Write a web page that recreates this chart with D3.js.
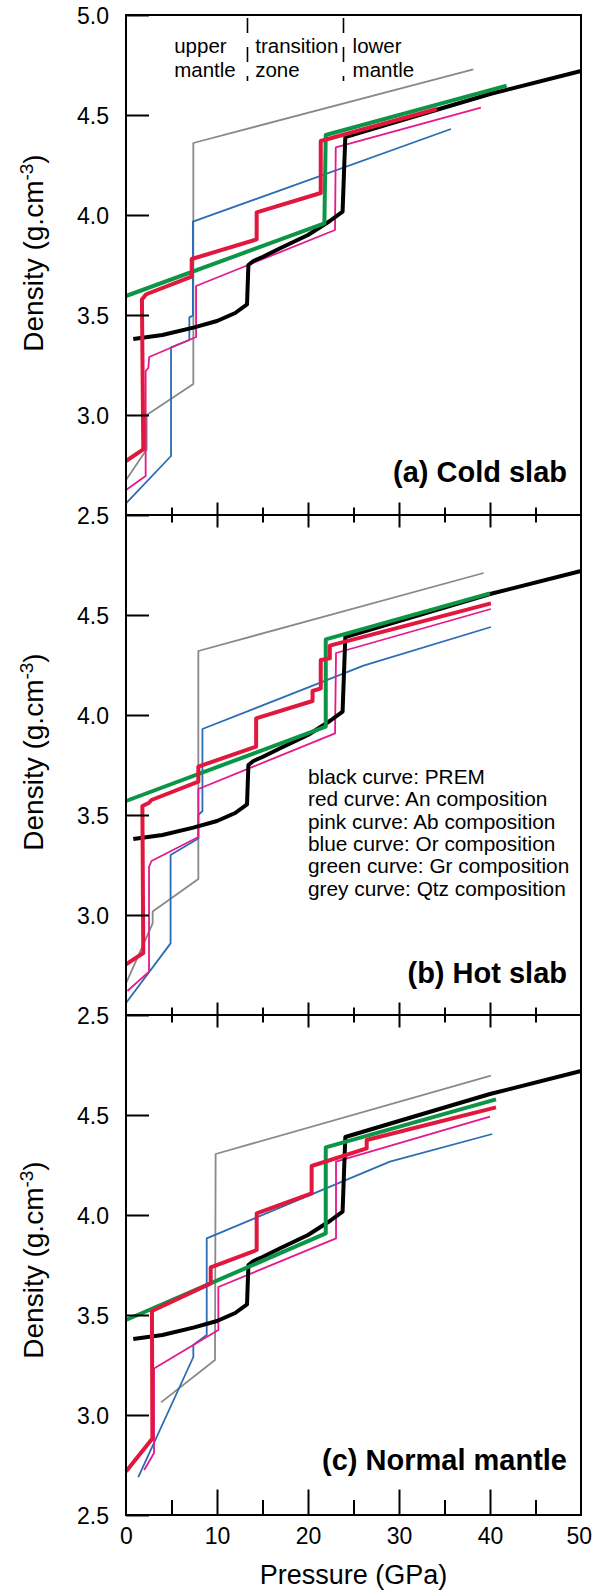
<!DOCTYPE html>
<html>
<head>
<meta charset="utf-8">
<script src="https://cdn.jsdelivr.net/npm/d3@7"></script>
<style>
  body { margin: 0; background: #fff; }
  svg { display: block; font-family: "Liberation Sans", Arial, Helvetica, sans-serif; }
</style>
</head>
<body>
<svg id="chart" width="592" height="1591"></svg>
<script>
// [pressure GPa, density g/cm3]
const prem = [[0.8,3.38],[4,3.40],[7.4,3.437],[10,3.47],[12,3.51],[13.3,3.553],[13.45,3.75],[14,3.77],[15,3.79],[17,3.835],[20,3.9],[22.4,3.97],[23.8,4.017],[24.1,4.39],[30,4.47],[40,4.605],[50,4.72]];

const coldAn  = [[0,2.77],[1.9,2.828],[1.75,3.578],[2.1,3.598],[2.3,3.605],[7.22,3.692],[7.22,3.78],[14.36,3.878],[14.36,4.013],[21.4,4.11],[21.4,4.37],[34.14,4.53]];
const coldAb  = [[0,2.625],[2.16,2.695],[2.16,3.22],[2.45,3.235],[2.55,3.29],[7.7,3.39],[7.7,3.645],[22.97,3.925],[23.05,4.338],[39.0,4.537]];
const coldOr  = [[0,2.558],[4.95,2.795],[4.95,3.338],[6.96,3.375],[6.96,3.488],[7.35,3.497],[7.35,3.967],[35.71,4.43]];
const coldGr  = [[0,3.595],[21.8,3.958],[21.95,4.40],[41.83,4.647]];
const coldQtz = [[0,2.675],[2.27,2.828],[2.27,3.0],[7.4,3.155],[7.4,4.36],[38.17,4.728]];

const hotAn  = [[0,2.753],[1.9,2.81],[1.8,3.545],[2.5,3.56],[2.8,3.575],[7.95,3.667],[7.95,3.742],[14.3,3.842],[14.3,3.983],[20.5,4.07],[20.5,4.12],[21.4,4.133],[21.4,4.275],[22.4,4.283],[22.4,4.347],[40.1,4.558]];
const hotAb  = [[0.15,2.62],[2.53,2.717],[2.53,3.24],[2.8,3.27],[7.95,3.39],[7.95,3.63],[22.97,3.908],[23.08,4.31],[40.1,4.53]];
const hotOr  = [[0,2.56],[4.9,2.858],[4.9,3.30],[7.95,3.383],[7.95,3.50],[8.4,3.52],[8.4,3.93],[26.1,4.247],[40.1,4.44]];
const hotGr  = [[0,3.57],[21.95,3.942],[21.95,4.378],[40,4.608]];
const hotQtz = [[0,2.658],[2.93,2.958],[2.93,3.017],[7.95,3.18],[7.95,4.32],[39.3,4.71]];

const normAn  = [[0,2.717],[2.9,2.883],[2.85,3.52],[9.31,3.658],[9.31,3.738],[14.36,3.825],[14.36,4.008],[20.4,4.108],[20.4,4.245],[26.45,4.333],[26.45,4.375],[40.66,4.538]];
const normAb  = [[2.0,2.725],[3.08,2.81],[3.08,3.233],[10.15,3.425],[10.15,3.64],[23.08,3.883],[23.08,4.267],[40,4.492]];
const normOr  = [[1.35,2.689],[7.4,3.29],[7.4,3.35],[8.87,3.40],[8.87,3.883],[29,4.267],[40.25,4.405]];
const normGr  = [[0,3.475],[21.95,3.908],[21.95,4.338],[40.66,4.578]];
const normQtz = [[3.85,3.063],[9.78,3.275],[9.85,4.305],[40.1,4.697]];

const panelTitles = ["(a) Cold slab", "(b) Hot slab", "(c) Normal mantle"];
const yTickValues = [2.5, 3.0, 3.5, 4.0, 4.5];
const xMajorTicks = [0, 10, 20, 30, 40, 50];
const xMinorTicks = [5, 15, 25, 35, 45];
const zoneBounds = [13.35, 23.9];
const zoneLabels = [["upper", "mantle"], ["transition", "zone"], ["lower", "mantle"]];
const zoneLabelP = [5.3, 14.2, 24.9];
const legendLines = [
  "black curve: PREM",
  "red curve: An composition",
  "pink curve: Ab composition",
  "blue curve: Or composition",
  "green curve: Gr composition",
  "grey curve: Qtz composition"
];

// draw order, bottom to top
const curveKeys = ["Qtz", "Or", "Ab", "PREM", "Gr", "An"];
const curveColor = { Qtz: "#898989", Or: "#2b6cb3", Ab: "#e4198b", PREM: "#000000", Gr: "#0c9546", An: "#e0183e" };
const curveWidth = { Qtz: 1.8, Or: 1.8, Ab: 1.8, PREM: 4, Gr: 4, An: 4 };

const panels = [
  { title: panelTitles[0], curves: { Qtz: coldQtz, Or: coldOr, Ab: coldAb, PREM: prem, Gr: coldGr, An: coldAn } },
  { title: panelTitles[1], curves: { Qtz: hotQtz, Or: hotOr, Ab: hotAb, PREM: prem, Gr: hotGr, An: hotAn } },
  { title: panelTitles[2], curves: { Qtz: normQtz, Or: normOr, Ab: normAb, PREM: prem, Gr: normGr, An: normAn } }
];

const left = 126, right = 581, top0 = 15, panelH = 500;
const titleOffset = [33, 32, 45];
const yLabelCenter = [253, 752, 1260];

const svg = d3.select("#chart");
const x = d3.scaleLinear().domain([0, 50]).range([left, right]);

panels.forEach((panel, i) => {
  const pTop = top0 + i * panelH;
  const pBot = pTop + panelH;
  const y = d3.scaleLinear().domain([2.5, 5]).range([pBot, pTop]);
  const g = svg.append("g");

  const line = d3.line().x((d) => x(d[0])).y((d) => y(d[1]));

  curveKeys.forEach((key) => {
    g.append("path")
      .datum(panel.curves[key])
      .attr("d", line)
      .attr("fill", "none")
      .attr("stroke", curveColor[key])
      .attr("stroke-width", curveWidth[key])
      .attr("stroke-linejoin", "round");
  });

  // left axis, ticks pointing inward
  const ticks = i === 0 ? yTickValues.concat([5.0]) : yTickValues;
  const yAxis = g.append("g")
    .attr("transform", `translate(${left},0)`)
    .call(d3.axisLeft(y).tickValues(ticks).tickFormat(d3.format(".1f"))
      .tickSizeInner(-23).tickSizeOuter(0).tickPadding(17));
  yAxis.select(".domain").remove();
  yAxis.selectAll(".tick line").attr("stroke-width", 2);
  yAxis.selectAll(".tick text")
    .attr("font-size", 23).attr("fill", "#000")
    .attr("font-family", "Liberation Sans, Arial, sans-serif")
    .attr("dy", "0.36em");

  // y label
  const lab = g.append("text")
    .attr("transform", `translate(43,${yLabelCenter[i]}) rotate(-90)`)
    .attr("text-anchor", "middle")
    .attr("font-size", 28);
  lab.append("tspan").text("Density (g.cm");
  lab.append("tspan").attr("dy", -10).attr("font-size", 19).text("-3");
  lab.append("tspan").attr("dy", 10).text(")");

  // bottom x ticks
  if (i < 2) {
    [[xMajorTicks.slice(1, -1), 12.5], [xMinorTicks, 7.5]].forEach(([vals, half]) => {
      const ax = g.append("g")
        .attr("transform", `translate(0,${pBot})`)
        .call(d3.axisBottom(x).tickValues(vals).tickFormat("").tickSizeOuter(0));
      ax.select(".domain").remove();
      ax.selectAll(".tick line").attr("y1", -half).attr("y2", half).attr("stroke-width", 2);
    });
  } else {
    const axMaj = g.append("g")
      .attr("transform", `translate(0,${pBot})`)
      .call(d3.axisBottom(x).tickValues(xMajorTicks).tickFormat(d3.format("d"))
        .tickSizeInner(-25.5).tickSizeOuter(0).tickPadding(13));
    axMaj.select(".domain").remove();
    axMaj.selectAll(".tick line").attr("stroke-width", 2)
      .filter((d) => d === 0 || d === 50).remove();
    axMaj.selectAll(".tick text").attr("font-size", 23).attr("fill", "#000")
      .attr("font-family", "Liberation Sans, Arial, sans-serif");
    // last label sits against the page edge
    axMaj.selectAll(".tick text").filter((d) => d === 50)
      .attr("text-anchor", "end").attr("x", 10.5);
    const axMin = g.append("g")
      .attr("transform", `translate(0,${pBot})`)
      .call(d3.axisBottom(x).tickValues(xMinorTicks).tickFormat("")
        .tickSizeInner(-15).tickSizeOuter(0));
    axMin.select(".domain").remove();
    axMin.selectAll(".tick line").attr("stroke-width", 2);
  }

  // panel title
  g.append("text")
    .attr("x", 567).attr("y", pBot - titleOffset[i])
    .attr("text-anchor", "end")
    .attr("font-size", 29).attr("font-weight", "bold")
    .text(panel.title);
});

// frame
svg.append("rect")
  .attr("x", left).attr("y", top0)
  .attr("width", right - left).attr("height", panelH * 3)
  .attr("fill", "none").attr("stroke", "#000").attr("stroke-width", 2);
[1, 2].forEach((k) => {
  svg.append("line")
    .attr("x1", left).attr("x2", right)
    .attr("y1", top0 + k * panelH).attr("y2", top0 + k * panelH)
    .attr("stroke", "#000").attr("stroke-width", 2);
});

// mantle zones in panel (a)
zoneBounds.forEach((p) => {
  svg.append("line")
    .attr("x1", x(p)).attr("x2", x(p))
    .attr("y1", 18).attr("y2", 81)
    .attr("stroke", "#000").attr("stroke-width", 1.6)
    .attr("stroke-dasharray", "15,14");
});
zoneLabels.forEach((lines, k) => {
  lines.forEach((s, j) => {
    svg.append("text")
      .attr("x", x(zoneLabelP[k])).attr("y", 53 + j * 24)
      .attr("font-size", 20.5)
      .text(s);
  });
});

// legend in panel (b)
legendLines.forEach((s, k) => {
  svg.append("text")
    .attr("x", 308).attr("y", 784 + k * 22.3)
    .attr("font-size", 20.8)
    .text(s);
});

svg.append("text")
  .attr("x", (left + right) / 2).attr("y", 1584)
  .attr("text-anchor", "middle")
  .attr("font-size", 27)
  .text("Pressure (GPa)");
</script>
</body>
</html>
